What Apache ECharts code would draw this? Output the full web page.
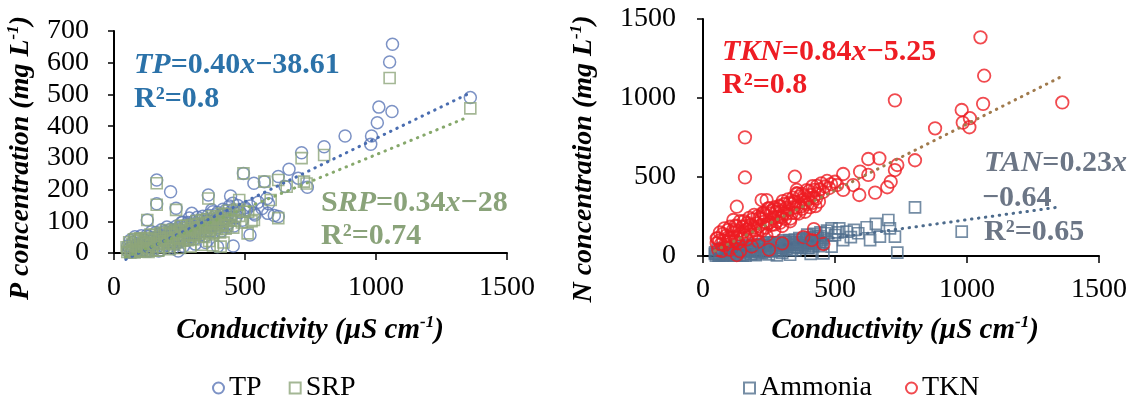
<!DOCTYPE html>
<html>
<head>
<meta charset="utf-8">
<script src="https://cdn.jsdelivr.net/npm/echarts@6/dist/echarts.min.js"></script>
<style>
html,body{margin:0;padding:0;background:#fff;}
#c{width:1131px;height:398px;}
</style>
</head>
<body>
<div id="c"></div>
<script>
// ---------- Data (read / estimated from the picture) ----------
const xTicks = [0, 500, 1000, 1500];
const pTicks = [0, 100, 200, 300, 400, 500, 600, 700];
const nTicks = [0, 500, 1000, 1500];

const TP = [
 [1063,658],[1052,602],[1360,490],[1011,460],[1005,411],[1061,446],[983,369],[980,343],[882,369],[802,335],
 [716,316],[668,264],[627,241],[703,236],[738,207],[653,210],[574,225],[534,220],[494,251],[583,172],
 [627,115],[587,125],[538,120],[506,136],[519,57],[455,22],[453,157],[445,180],[360,183],[373,136],
 [411,104],[297,125],[287,110],[216,193],[163,230],[163,155],[237,141],[127,104],
 [52,22],[55,3],[59,14],[62,40],[66,3],[69,5],[73,34],[76,13],[80,51],[83,4],[87,26],[90,6],[94,44],[97,21],
 [101,7],[104,54],[108,17],[111,8],[115,41],[118,33],[122,6],[125,55],[129,17],[132,52],[136,6],[139,37],
 [143,67],[146,25],[150,10],[153,48],[157,32],[160,65],[164,19],[167,50],[171,6],[174,59],[178,41],[181,73],
 [185,31],[188,51],[192,19],[195,68],[199,41],[202,82],[206,34],[209,52],[213,20],[216,75],[220,42],[223,69],
 [227,33],[230,64],[234,28],[237,84],[241,54],[244,79],[248,35],[251,74],[255,48],[258,96],
 [262,97],[265,51],[269,79],[272,41],[276,88],[279,64],[283,96],[286,42],[290,80],[293,51],[297,89],[300,64],
 [304,99],[307,45],[311,80],[314,63],[318,113],[321,74],[325,103],[328,56],[332,90],[335,71],[339,116],
 [342,85],[346,105],[349,54],[353,100],[356,71],[360,119],[363,88],[367,106],[370,69],[374,87],[377,130],
 [381,102],[384,68],[388,121],[391,88],[395,128],[398,80],[402,110],[405,119],[409,69],[412,99],[416,138],
 [419,93],[423,109],[426,134],[430,82],[433,120],[437,94],[441,148],[446,112],[452,136],[458,85],[465,111],
 [472,150],[480,128],[490,103],[500,143],[520,148],[535,125],[550,160],[565,140],[590,155],[612,118],
 [180,10],[225,14],[265,21],[310,28],[350,33],[395,20],[245,6]
];
const SRP = [
 [1052,552],[1360,456],[802,309],[716,299],[627,230],[735,219],[659,209],[574,225],[494,251],[725,225],
 [598,167],[478,167],[534,104],[627,110],[510,62],[407,20],[363,38],[360,172],[163,220],[163,152],
 [237,136],[127,104],[100,40],[84,45],
 [48,18],[51,3],[55,11],[58,34],[62,2],[65,5],[69,28],[72,10],[76,43],[79,2],[83,23],[86,4],[90,38],[93,18],
 [97,6],[100,46],[104,15],[107,7],[111,36],[114,29],[118,6],[121,47],[125,15],[128,45],[132,3],[135,32],
 [139,58],[142,23],[146,10],[149,42],[153,29],[156,57],[160,18],[163,44],[167,7],[170,51],[174,37],[177,64],
 [181,28],[184,45],[188,18],[191,60],[195,37],[198,72],[202,31],[205,47],[209,19],[212,67],[216,39],[219,62],
 [223,31],[226,58],[230,27],[233,74],[237,49],[240,70],[244,33],[247,66],[251,44],[254,85],
 [258,86],[261,46],[265,70],[268,39],[272,78],[275,59],[279,86],[282,40],[286,73],[289,47],[293,80],[296,59],
 [300,89],[303,43],[307,73],[310,58],[314,101],[317,67],[321,92],[324,52],[328,81],[331,66],[335,104],
 [338,78],[342,95],[345,51],[349,90],[352,66],[356,107],[359,81],[363,96],[366,65],[370,80],[373,116],
 [377,92],[380,63],[384,109],[387,81],[391,115],[394,75],[398,100],[401,108],[405,65],[408,91],[412,124],
 [415,86],[419,100],[422,121],[426,77],[429,109],[433,87],[437,133],[442,103],[448,123],[455,80],[462,102],
 [470,137],[478,117],[488,96],[498,130],[512,130],[525,100],
 [170,8],[212,12],[252,16],[292,20],[333,26],[378,24],[418,33]
];
const TPtrend  = [[45,-20],[1355,503]];
const SRPtrend = [[45,-13],[1355,430]];

const Ammonia = [
 [803,308],[980,154],[736,21],[702,228],[655,203],[620,182],[708,175],[727,122],[670,122],[633,101],
 [588,144],[572,165],[544,154],[516,175],[500,133],[531,101],[487,175],[462,144],[456,17],[408,13],
 [487,59],[45,13],[470,160],[445,150],[420,140],[395,135],[510,150],[560,120],
 [46,23],[49,2],[53,15],[56,40],[59,3],[63,4],[66,34],[70,12],[73,50],[76,3],[80,26],[83,5],[87,43],[90,20],
 [93,5],[97,52],[100,15],[104,6],[107,39],[110,30],[114,3],[117,52],[121,14],[124,48],[127,4],[131,33],
 [134,62],[138,21],[141,5],[144,44],[148,28],[151,60],[155,14],[158,45],[161,3],[165,53],[168,35],[172,67],
 [175,25],[178,44],[182,12],[185,61],[189,34],[192,74],[195,26],[199,45],[202,11],[206,67],[209,34],[212,61],
 [216,25],[219,55],[223,19],[226,75],[229,44],[233,69],[236,25],[240,64],[243,37],[246,85],
 [250,86],[253,40],[257,68],[260,30],[264,76],[267,53],[271,85],[274,30],[278,68],[281,39],[285,77],[288,51],
 [292,86],[295,32],[299,67],[302,49],[306,99],[309,60],[313,89],[316,42],[320,75],[323,57],[327,101],
 [330,71],[334,90],[337,39],[341,85],[344,56],[348,104],[351,72],[355,90],[358,53],[362,71],[365,113],
 [369,85],[372,51],[376,104],[379,70],[383,110],[386,63],[390,92],[393,101],[397,51],[400,81],[404,120],
 [407,75],[411,90],[414,115],[418,63],[421,101],[425,75],[428,128],[432,92],[435,115],[439,63],[442,87],
 [446,126],[449,102],[453,76],[456,113],
 [150,3],[200,5],[250,10],[300,20],[350,35],[400,50],[330,8],[280,4]
];
const TKN = [
 [1051,1384],[1065,1141],[1061,963],[1361,972],[727,985],[980,924],[984,844],[1011,872],[1009,815],
 [879,808],[803,606],[668,618],[626,614],[736,576],[727,544],[711,470],[698,435],[626,513],[652,401],
 [595,534],[531,519],[569,449],[592,386],[159,751],[159,497],[348,502],[128,312],[222,354],[241,354],
 [52,112],[52,80],[456,76],[412,101],[355,418],[355,397],[500,470],[508,449],[531,418],[115,228],
 [228,270],[292,312],[165,165],[128,6],
 [55,112],[58,39],[62,97],[64,149],[68,75],[71,32],[75,140],[77,97],[81,175],[84,72],[88,129],[90,56],
 [94,164],[97,120],[101,93],[103,185],[107,114],[110,58],[114,164],[116,147],[120,94],[123,192],[127,119],
 [129,187],[133,85],[136,158],[140,220],[142,138],[146,108],[149,185],[153,155],[155,220],[159,130],
 [162,191],[166,105],[168,209],[172,176],[175,241],[179,157],[181,197],[185,134],[188,232],[192,180],
 [194,260],[198,165],[201,206],[205,141],[207,253],[211,188],[214,241],[218,170],[220,232],[224,161],
 [227,273],[231,216],[233,263],[237,179],[240,255],[244,205],[246,300],
 [250,303],[253,212],[257,269],[259,196],[263,287],[266,244],[270,307],[272,200],[276,277],[279,219],
 [283,296],[285,247],[289,318],[292,211],[296,282],[298,245],[302,347],[305,270],[309,329],[311,235],
 [315,304],[318,268],[322,359],[324,297],[328,337],[331,237],[335,329],[337,273],[341,369],[344,308],
 [348,344],[350,271],[354,307],[357,394],[361,338],[363,269],[367,378],[370,313],[374,393],[376,299],
 [380,358],[383,379],[387,280],[389,339],[393,417],[396,329],[400,362],[402,411],[406,309],[409,386],
 [413,335],[415,442],[419,370],[422,418],[426,316],[428,363],[432,444],[435,395],[439,344],[441,421],
 [448,460],[455,405],[462,440],[470,475],[478,430],[485,455],
 [185,60],[210,90],[240,130],[270,160],[300,190],[330,220],[250,40],[300,80],[380,120],[420,170],
 [140,30],[100,40]
];
const TKNtrend = [[45,33],[1355,1133]];
const TANtrend = [[45,10],[1345,309]];

// ---------- Styling ----------
const FF = "'Liberation Serif','Times New Roman',serif";
const cTP = '#5b77b6', cSRP = '#8da57b', cTPline = '#4a6db0', cSRPline = '#86a86b';
const cAm = '#52708f', cTKN = '#ee1d23', cTKNline = '#a07a4c', cTANline = '#4d6b8c';

function xAxisDef(gi, margin){
  return {gridIndex: gi, type: 'value', min: xTicks[0], max: xTicks[xTicks.length-1], interval: xTicks[1]-xTicks[0],
    axisLine: {show: true, onZero: false, lineStyle: {color: '#000', width: 2}},
    axisTick: {show: true, inside: false, length: 7, lineStyle: {color: '#000', width: 1.5}},
    axisLabel: {margin: margin, fontSize: 28, fontFamily: FF, color: '#000', formatter: v => String(v)},
    splitLine: {show: false}};
}
function yAxisDef(gi, ticks, margin){
  return {gridIndex: gi, type: 'value', min: ticks[0], max: ticks[ticks.length-1], interval: ticks[1]-ticks[0],
    axisLine: {show: true, lineStyle: {color: '#000', width: 2}},
    axisTick: {show: true, inside: false, length: 6, lineStyle: {color: '#000', width: 1.5}},
    axisLabel: {margin: margin, fontSize: 28, fontFamily: FF, color: '#000', formatter: v => String(v)},
    splitLine: {show: false}};
}
function hollow(color, w){ return {color: 'rgba(255,255,255,0)', borderColor: color, borderWidth: w}; }
function trend(data, xi, color){
  return {type: 'line', xAxisIndex: xi, yAxisIndex: xi, data: data, symbol: 'none', clip: false, z: 5,
    silent: true, lineStyle: {color: color, width: 3, type: [0.5, 6.5], cap: 'round'}};
}

const bi = {fontFamily: FF, fontWeight: 'bold', fontStyle: 'italic', fontSize: 30};
const bn = {fontFamily: FF, fontWeight: 'bold', fontStyle: 'normal', fontSize: 30};
function ann(x, y, text, color){
  return {type: 'text', x: x, y: y, z: 20, silent: true,
    style: {text: text, fill: color, align: 'left', verticalAlign: 'middle', fontFamily: FF, fontWeight: 'bold', fontSize: 30,
      rich: {i: Object.assign({fill: color}, bi), b: Object.assign({fill: color}, bn)}}};
}
const tt = {fontFamily: FF, fontWeight: 'bold', fontStyle: 'italic', fill: '#000'};
function title(x, y, text, rot, size){
  return {type: 'text', x: x, y: y, rotation: rot, z: 20, silent: true,
    style: {text: text, align: 'center', verticalAlign: 'middle', fill: '#000', fontFamily: FF, fontWeight: 'bold', fontStyle: 'italic', fontSize: size,
      rich: {t: Object.assign({fontSize: size, lineHeight: size + 4}, tt),
             s: Object.assign({fontSize: Math.round(size*0.6), lineHeight: size + 4, verticalAlign: 'top'}, tt)}}};
}

const chart = echarts.init(document.getElementById('c'), null, {renderer: 'canvas'});
chart.setOption({
  animation: false,
  backgroundColor: '#fff',
  grid: [
    {left: 114, top: 31, width: 393, height: 222},
    {left: 703, top: 19, width: 396, height: 237}
  ],
  xAxis: [xAxisDef(0, 21), xAxisDef(1, 20)],
  yAxis: [yAxisDef(0, pTicks, 25), yAxisDef(1, nTicks, 27)],
  legend: [
    {left: 207, top: 369, itemWidth: 11, itemHeight: 11, itemGap: 27, selectedMode: false,
     textStyle: {fontFamily: FF, fontSize: 28, color: '#000'},
     data: [{name: 'TP', icon: 'circle'}, {name: 'SRP', icon: 'rect'}]},
    {left: 738, top: 369, itemWidth: 11, itemHeight: 11, itemGap: 33, selectedMode: false,
     textStyle: {fontFamily: FF, fontSize: 28, color: '#000'},
     data: [{name: 'Ammonia', icon: 'rect'}, {name: 'TKN', icon: 'circle'}]}
  ],
  series: [
    {name: 'TP', type: 'scatter', xAxisIndex: 0, yAxisIndex: 0, data: TP, symbol: 'circle', symbolSize: 12, itemStyle: hollow(cTP, 1.5)},
    {name: 'SRP', type: 'scatter', xAxisIndex: 0, yAxisIndex: 0, data: SRP, symbol: 'rect', symbolSize: 11, itemStyle: hollow(cSRP, 1.6)},
    trend(TPtrend, 0, cTPline),
    trend(SRPtrend, 0, cSRPline),
    {name: 'Ammonia', type: 'scatter', xAxisIndex: 1, yAxisIndex: 1, data: Ammonia, symbol: 'rect', symbolSize: 11, itemStyle: hollow(cAm, 1.7)},
    {name: 'TKN', type: 'scatter', xAxisIndex: 1, yAxisIndex: 1, data: TKN, symbol: 'circle', symbolSize: 12.5, itemStyle: hollow(cTKN, 1.8)},
    trend(TKNtrend, 1, cTKNline),
    trend(TANtrend, 1, cTANline)
  ],
  graphic: [
    ann(134, 65, '{i|TP}{b|=0.40}{i|x}{b|\u221238.61}', '#2b72a9'),
    ann(134, 99, '{b|R\u00b2=0.8}', '#2b72a9'),
    ann(321, 203, '{b|S}{i|RP}{b|=0.34}{i|x}{b|\u221228}', '#8aa37a'),
    ann(321, 236, '{b|R\u00b2=0.74}', '#8aa37a'),
    ann(722, 52, '{i|TKN}{b|=0.84}{i|x}{b|\u22125.25}', '#ee1d24'),
    ann(722, 85, '{b|R\u00b2=0.8}', '#ee1d24'),
    ann(984, 163, '{i|TAN}{b|=0.23}{i|x}', '#6c7686'),
    ann(982, 198, '{b|\u22120.64}', '#6c7686'),
    ann(984, 232, '{b|R\u00b2=0.65}', '#6c7686'),
    title(21, 158, '{t|P concentration (mg L}{s|-1}{t|)}', Math.PI/2, 28),
    title(584, 159, '{t|N concentration (mg L}{s|-1}{t|)}', Math.PI/2, 28),
    title(310, 331, '{t|Conductivity (\u00b5S cm}{s|-1}{t|)}', 0, 29),
    title(905, 331, '{t|Conductivity (\u00b5S cm}{s|-1}{t|)}', 0, 29)
  ]
});
</script>
</body>
</html>
